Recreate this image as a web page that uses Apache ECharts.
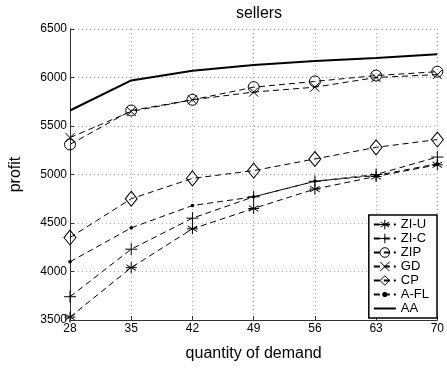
<!DOCTYPE html>
<html>
<head>
<meta charset="utf-8">
<script src="https://cdn.jsdelivr.net/npm/echarts@6/dist/echarts.min.js"></script>
<style>html,body{margin:0;padding:0;background:#fff}#c{width:447px;height:369px}</style>
</head>
<body>
<div id="c"></div>
<script>
var demand = [28, 35, 42, 49, 56, 63, 70];
var ziU  = [3530, 4040, 4440, 4650, 4850, 4980, 5100];
var ziC  = [3740, 4230, 4550, 4770, 4930, 5000, 5180];
var zip  = [5310, 5660, 5770, 5900, 5960, 6020, 6060];
var gd   = [5380, 5650, 5770, 5850, 5900, 6000, 6030];
var cp   = [4350, 4750, 4960, 5040, 5160, 5280, 5360];
var afl  = [4100, 4450, 4680, 4770, 4930, 4990, 5110];
var aa   = [5660, 5970, 6070, 6130, 6170, 6200, 6240];
var names = ['ZI-U', 'ZI-C', 'ZIP', 'GD', 'CP', 'A-FL', 'AA'];

var FONT = 'Liberation Sans';
function pts(arr) { return demand.map(function (d, i) { return [d, arr[i]]; }); }

var sym = {
  star: 'path://M0,-1L0,1M-0.87,-0.5L0.87,0.5M-0.87,0.5L0.87,-0.5M-1,0L1,0',
  plus: 'path://M0,-1L0,1M-1,0L1,0',
  circle: 'path://M1,0A1,1,0,1,1,-1,0A1,1,0,1,1,1,0Z',
  cross: 'path://M-1,-1L1,1M-1,1L1,-1',
  diamond: 'path://M0,-1L0.75,0L0,1L-0.75,0Z',
  dot: 'path://M-2.2,-2.2L-2.2,-2.2M2.2,2.2L2.2,2.2M1,0A1,1,0,1,1,-1,0A1,1,0,1,1,1,0Z',
  dash: 'path://M-1,-1L-1,-1M1,1L1,1M-1,0L1,0'
};

function mk(name, data, symbol, size, dashed, filled, showSym) {
  return {
    name: name, type: 'line', data: pts(data),
    symbol: symbol, symbolSize: size, showSymbol: showSym,
    lineStyle: { color: '#000', width: dashed ? 1 : 2, type: dashed ? [6, 4] : 'solid' },
    itemStyle: { color: filled ? '#000' : 'rgba(0,0,0,0)', borderColor: '#000', borderWidth: filled ? 0 : 1 },
    emphasis: { disabled: true },
    animation: false
  };
}

var chart = echarts.init(document.getElementById('c'), null, { renderer: 'canvas' });
chart.setOption({
  backgroundColor: '#fff',
  animation: false,
  textStyle: { fontFamily: FONT },
  title: {
    text: 'sellers', left: 254, top: 1, textAlign: 'center',
    textStyle: { fontFamily: FONT, fontSize: 16, fontWeight: 'normal', color: '#000' }
  },
  grid: { left: 68, right: 6, top: 29, bottom: 49 },
  xAxis: {
    type: 'value', min: 28, max: 70, interval: 7,
    name: 'quantity of demand', nameLocation: 'middle', nameGap: 26,
    nameTextStyle: { fontFamily: FONT, fontSize: 16, color: '#000' },
    axisLine: { lineStyle: { color: '#333', width: 1 } },
    axisTick: { inside: true, length: 4, lineStyle: { color: '#333' } },
    axisLabel: { fontFamily: FONT, fontSize: 12, color: '#000', margin: 3 },
    splitLine: { show: true, lineStyle: { color: '#aaa', type: [1, 3], width: 1 } }
  },
  yAxis: {
    type: 'value', min: 3500, max: 6500, interval: 500,
    name: 'profit', nameLocation: 'middle', nameGap: 46, nameRotate: 90,
    nameTextStyle: { fontFamily: FONT, fontSize: 16, color: '#000' },
    axisLine: { show: true, lineStyle: { color: '#333', width: 1 } },
    axisTick: { show: true, inside: true, length: 4, lineStyle: { color: '#333' } },
    axisLabel: { fontFamily: FONT, fontSize: 12, color: '#000', margin: 3,
      formatter: function (v) { return String(v); } },
    splitLine: { show: true, lineStyle: { color: '#aaa', type: [1, 3], width: 1 } }
  },
  legend: {
    data: names, orient: 'vertical', right: 10, bottom: 51,
    backgroundColor: '#fff', borderColor: '#000', borderWidth: 1.5,
    padding: [3, 8, 3, 4], itemGap: 1, itemWidth: 22, itemHeight: 12,
    itemStyle: { borderWidth: 1 },
    textStyle: { fontFamily: FONT, fontSize: 13, color: '#000' }
  },
  series: [
    mk('ZI-U', ziU, sym.star, 11, true, false, true),
    mk('ZI-C', ziC, sym.plus, 12, true, false, true),
    mk('ZIP', zip, sym.circle, 11, true, false, true),
    mk('GD', gd, sym.cross, 9, true, false, true),
    mk('CP', cp, sym.diamond, [12, 15], true, false, true),
    mk('A-FL', afl, sym.dot, 8, true, true, true),
    mk('AA', aa, sym.dash, 10, false, false, false)
  ]
});
</script>
</body>
</html>
